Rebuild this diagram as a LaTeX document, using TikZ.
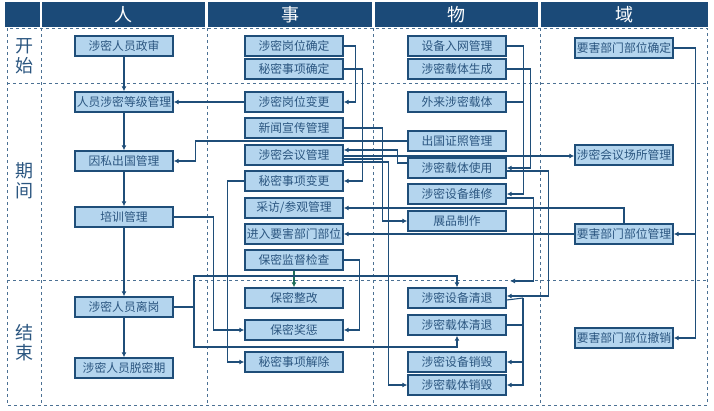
\documentclass[tikz,border=0pt]{standalone}
\usepackage{fontspec}
\setmainfont{Noto Sans CJK SC}
\usetikzlibrary{arrows.meta}
\definecolor{navy}{HTML}{1F4E79}
\definecolor{boxfill}{HTML}{B4D5EE}
\definecolor{headblue}{HTML}{1B4A78}
\definecolor{txtblue}{HTML}{2B5680}
\definecolor{checkgreen}{HTML}{1E6E5A}

\begin{document}
\begin{tikzpicture}[x=1pt,y=-1pt,
  box/.style={draw=navy,line width=1.4pt,fill=boxfill,minimum width=98pt,minimum height=20pt,inner sep=0pt,text=txtblue,font=\fontsize{11.8}{12}\selectfont},
  head/.style={fill=headblue,text=white,inner sep=0pt,font=\fontsize{18}{18}\selectfont},
  grid/.style={navy!80,dashed,line width=0.8pt},
  link/.style={navy,line width=1.1pt},
  arr/.style={link,-{Latex[length=5pt,width=5pt]}}]
\useasboundingbox (0,0) rectangle (714,410);

% header bar
\fill[headblue] (5,2) rectangle (40,27);
\node[head,minimum width=163pt,minimum height=25pt] at (123.5,14.5) {人};
\node[head,minimum width=164pt,minimum height=25pt] at (290,14.5) {事};
\node[head,minimum width=163pt,minimum height=25pt] at (456.5,14.5) {物};
\node[head,minimum width=167pt,minimum height=25pt] at (624.5,14.5) {域};

% dashed grid
\draw[grid] (7,28) rectangle (707,405);
\draw[grid] (7,83) -- (707,83);
\draw[grid] (7,280) -- (707,280);
\foreach \gx in {41,207,373,540}
  \draw[grid] (\gx,28) -- (\gx,405);

% row labels
\node[text=txtblue,font=\fontsize{18}{20}\selectfont,align=center] (rstart) at (24,56) {开\\始};
\node[text=txtblue,font=\fontsize{18}{20}\selectfont,align=center] (rmid) at (24,181) {期\\间};
\node[text=txtblue,font=\fontsize{18}{20}\selectfont,align=center] (rend) at (24,343) {结\\束};

% people
\node[box] (zs) at (124,46) {涉密人员政审};
\node[box] (dj) at (124,102) {人员涉密等级管理};
\node[box] (yscg) at (124,161) {因私出国管理};
\node[box] (px) at (124,217) {培训管理};
\node[box] (lg) at (124,307) {涉密人员离岗};
\node[box] (tm) at (124,368) {涉密人员脱密期};

% matters
\node[box] (gwqd) at (294,46) {涉密岗位确定};
\node[box] (sxqd) at (294,69) {秘密事项确定};
\node[box] (gwbg) at (294,102) {涉密岗位变更};
\node[box] (xw) at (294,128) {新闻宣传管理};
\node[box] (hy) at (294,155) {涉密会议管理};
\node[box] (sxbg) at (294,181) {秘密事项变更};
\node[box] (cf) at (294,208) {采访/参观管理};
\node[box] (jr) at (294,234) {进入要害部门部位};
\node[box] (jd) at (294,260) {保密监督检查};
\node[box] (zg) at (294,298) {保密整改};
\node[box] (jc) at (294,330) {保密奖惩};
\node[box] (jcu) at (294,362) {秘密事项解除};

% things
\node[box] (rw) at (457,46) {设备入网管理};
\node[box] (ztsc) at (457,69) {涉密载体生成};
\node[box] (wl) at (457,102) {外来涉密载体};
\node[box] (cz) at (457,141) {出国证照管理};
\node[box] (sy) at (457,168) {涉密载体使用};
\node[box] (wx) at (457,194) {涉密设备维修};
\node[box] (zp) at (457,221) {展品制作};
\node[box] (sbqt) at (457,298) {涉密设备清退};
\node[box] (ztqt) at (457,325) {涉密载体清退};
\node[box] (sbxh) at (457,362) {涉密设备销毁};
\node[box] (ztxh) at (457,385) {涉密载体销毁};

% domains
\node[box] (yqd) at (624,48) {要害部门部位确定};
\node[box] (cs) at (624,155) {涉密会议场所管理};
\node[box] (ygl) at (624,234) {要害部门部位管理};
\node[box] (yjc) at (624,338) {要害部门部位撤销};

% people chain
\draw[arr] (zs) -- (dj);
\draw[arr] (dj) -- (yscg);
\draw[arr] (yscg) -- (px);
\draw[arr] (px) -- (lg);
\draw[arr] (lg) -- (tm);

% matters links
\draw[arr] (gwbg) -- (dj);
\draw[arr] (gwqd.east) -- ++(12,0) |- (gwbg.east);
\draw[arr] (sxqd.east) -- ++(19,0) |- (sxbg.east);
\draw[arr] (xw.east) -- ++(39,0) |- (zp.west);
\draw[link] ([yshift=-4pt]hy.east) -- ++(39,0);
\draw[arr] ([yshift=-7pt]hy.east) -- ++(45,0) |- (ztxh.west);
\draw[arr] ([yshift=-1pt]hy.east) -- ([yshift=-1pt]cs.west);
\draw[arr] ([yshift=5pt]sy.west) -- ++(-10,0) |- ([yshift=5pt]hy.east);
\draw[arr] (cz.west) -- ++(-212,0) |- (yscg.east);
\draw[arr] (sxbg.west) -- ++(-17,0) |- (jcu.west);
\draw[arr] (px.east) -- ++(40,0) |- (jc.west);
\draw[arr,checkgreen] (jd) -- (zg);
\draw[arr] (jd.east) -- ++(16,0) |- (jc.east);

% things links
\draw[arr] (ztsc.east) -- ++(24,0) |- (sy.east);
\draw[arr] (rw.east) -- ++(17,0) |- (wx.east);
\draw[link] (wl.east) -- ++(17,0);
\draw[arr] ([yshift=-3pt]sy.east) -- ++(42,0) |- ([yshift=2pt]sbqt.east);
\coordinate (qtin) at (510,281);
\draw[arr] ([yshift=-4pt]wx.east) -- ++(27,0) |- (qtin);
\coordinate (xhbus) at (523,298);
\draw[link] ([yshift=-2pt]sbqt.east) -- (xhbus);
\draw[link] (ztqt.east) -- (523,325);
\draw[arr] (xhbus) |- (sbxh.east);
\draw[arr] (xhbus) |- (ztxh.east);

% leaving post
\coordinate (lgc) at (194,307);
\draw[link] (lg.east) -- (lgc);
\draw[arr] (lgc) -- (194,276) -| (sbqt.north);
\draw[arr] (lgc) -- (194,347) -| (ztqt.south);

% domains links
\draw[arr] (yqd.east) -- ++(22,0) |- (ygl.east);
\draw[arr] (yqd.east) -- ++(22,0) |- (yjc.east);
\draw[arr] (ygl) -- (jr);
\draw[arr] (ygl.north) |- (cf.east);
\end{tikzpicture}
\end{document}
